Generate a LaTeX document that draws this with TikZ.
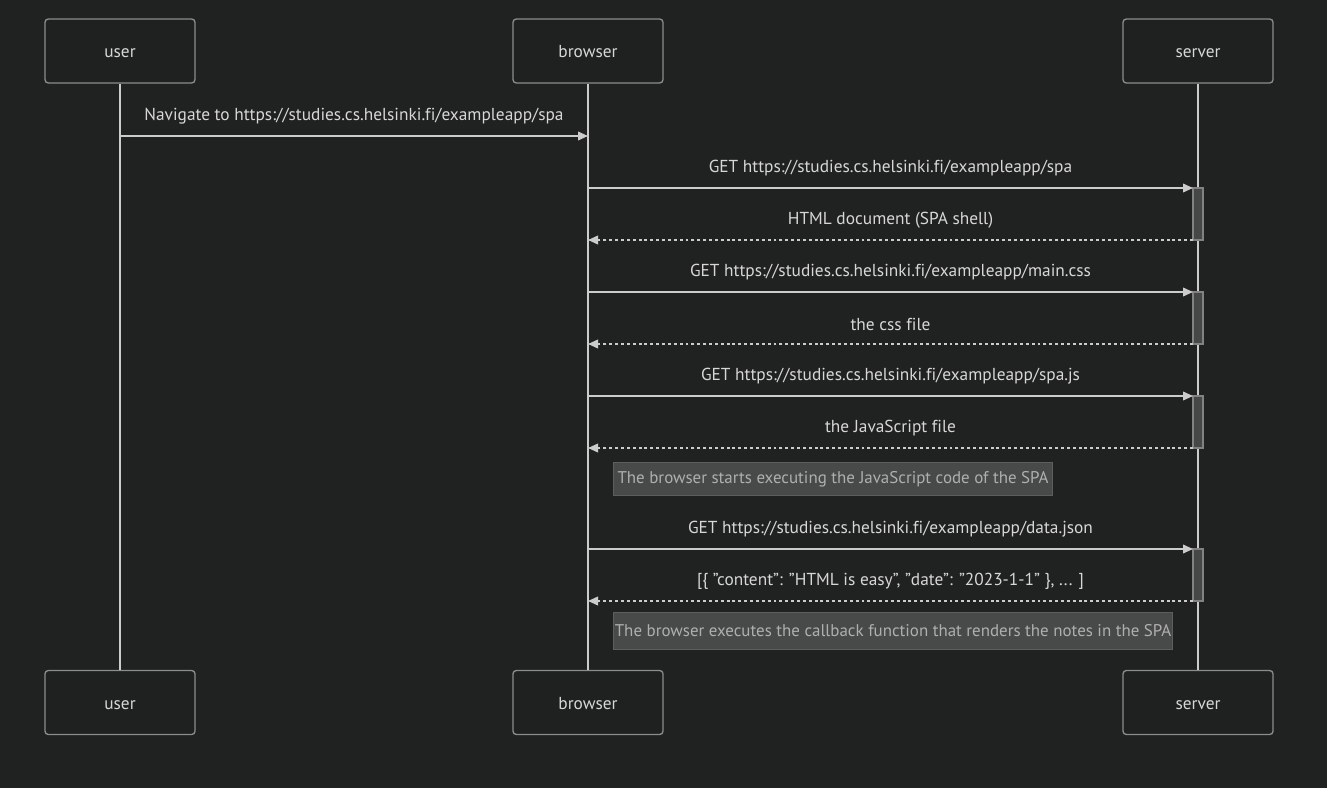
\documentclass[tikz,border=0pt]{standalone}
\usepackage{fontspec}
\setmainfont[Ligatures=NoCommon]{PT Sans}
\usetikzlibrary{arrows.meta,calc}
\definecolor{bg}{RGB}{32,33,33}
\definecolor{boxfill}{RGB}{31,33,33}
\definecolor{boxline}{RGB}{140,140,140}
\definecolor{lifeline}{RGB}{204,204,204}
\definecolor{txt}{RGB}{215,215,215}
\definecolor{notefill}{RGB}{72,74,74}
\definecolor{noteline}{RGB}{92,94,94}
\definecolor{notetxt}{RGB}{175,175,175}
\definecolor{actfill}{RGB}{70,72,72}
\definecolor{actline}{RGB}{130,130,130}
\newcommand{\dq}{\char"22\relax}
\tikzset{
  actor/.style={draw=boxline, fill=boxfill, line width=1pt, rounded corners=2.5pt,
    minimum width=112.5pt, minimum height=48pt, text height=10pt, text depth=0pt,
    text=txt, font=\fontsize{13}{15}\selectfont},
  life/.style={draw=lifeline, line width=1.2pt},
  msg/.style={draw=lifeline, line width=1.2pt, -{Triangle[length=7.5pt,width=6.5pt]}},
  reply/.style={msg, dash pattern=on 2.2pt off 2.2pt},
  lbl/.style={text=txt, font=\fontsize{13}{15}\selectfont, yshift=15pt},
  act/.style={draw=actline, fill=actfill, line width=0.8pt},
  note/.style={draw=noteline, fill=notefill, line width=0.8pt, text=notetxt,
    font=\fontsize{12.7}{15}\selectfont, inner sep=0pt}
}
\begin{document}
\begin{tikzpicture}[x=0.75pt,y=-0.75pt]
\useasboundingbox (0,0) rectangle (1327,788);
\fill[bg] (0,0) rectangle (1327,788);

% participants, top and bottom
\node[actor] (u1) at (120,51) {user};
\node[actor] (b1) at (588,51) {browser};
\node[actor] (s1) at (1198,51) {server};
\node[actor] (u2) at (120,702.5) {user};
\node[actor] (b2) at (588,702.5) {browser};
\node[actor] (s2) at (1198,702.5) {server};

% lifelines
\draw[life] (u1.south) -- (u2.north);
\draw[life] (b1.south) -- (b2.north);
\draw[life] (s1.south) -- (s2.north);

% activation bars on the server
\foreach \t/\n in {188/a1, 292/a2, 396/a3, 549/a4}{
  \draw[act] (1193,\t) rectangle (1203,\t+52);
  \coordinate (\n-in) at (1193,\t);
  \coordinate (\n-out) at (1193,\t+52);
}

% message endpoints on the lifelines
\coordinate (u-m1) at (120,136);
\coordinate (b-m1) at (588,136);
\coordinate (b-m2) at (588,188);
\coordinate (b-m3) at (588,240);
\coordinate (b-m4) at (588,292);
\coordinate (b-m5) at (588,344);
\coordinate (b-m6) at (588,396);
\coordinate (b-m7) at (588,448);
\coordinate (b-m9) at (588,549);
\coordinate (b-m10) at (588,601);

% messages
\draw[msg] (u-m1) -- node[lbl] {Navigate to https://studies.cs.helsinki.fi/exampleapp/spa} (b-m1);
\draw[msg] (b-m2) -- node[lbl] {GET https://studies.cs.helsinki.fi/exampleapp/spa} (a1-in);
\draw[reply] (a1-out) -- node[lbl] {HTML document (SPA shell)} (b-m3);
\draw[msg] (b-m4) -- node[lbl] {GET https://studies.cs.helsinki.fi/exampleapp/main.css} (a2-in);
\draw[reply] (a2-out) -- node[lbl] {the css file} (b-m5);
\draw[msg] (b-m6) -- node[lbl] {GET https://studies.cs.helsinki.fi/exampleapp/spa.js} (a3-in);
\draw[reply] (a3-out) -- node[lbl] {the JavaScript file} (b-m7);
\draw[msg] (b-m9) -- node[lbl] {GET https://studies.cs.helsinki.fi/exampleapp/data.json} (a4-in);
\draw[reply] (a4-out) -- node[lbl] {[\{ \dq content\dq: \dq HTML is easy\dq, \dq date\dq: \dq 2023-1-1\dq\ \}, ... ]} (b-m10);

% notes
\node[note, anchor=north west, minimum width=329.25pt, minimum height=24.75pt] (n1) at (613,462)
  {The browser starts executing the JavaScript code of the SPA};
\node[note, anchor=north west, minimum width=419.25pt, minimum height=27.75pt] (n2) at (613,612)
  {The browser executes the callback function that renders the notes in the SPA};
\end{tikzpicture}
\end{document}
